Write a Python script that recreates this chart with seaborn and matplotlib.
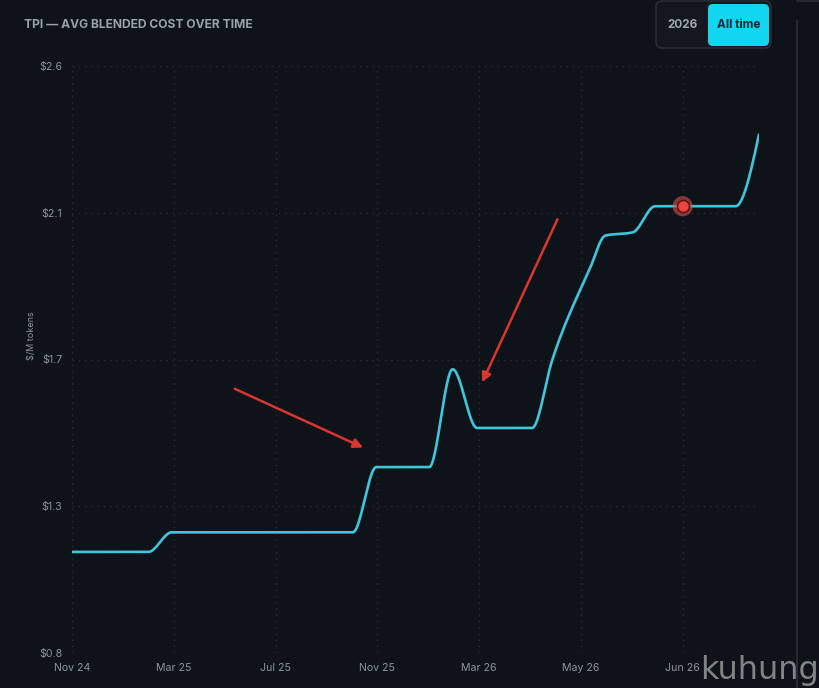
import numpy as np
import pandas as pd
import matplotlib
matplotlib.use("Agg")
import matplotlib.pyplot as plt
import seaborn as sns
from matplotlib.patches import FancyBboxPatch
from matplotlib.transforms import IdentityTransform
from matplotlib.lines import Line2D

# ---------------- data ----------------
x_pos = [0.0, 0.75, 0.98, 2.76, 2.99, 3.51, 3.74, 3.98, 4.52, 4.72, 5.09, 5.24, 5.51, 5.73, 6.52, 6.75]
cost = [1.11, 1.11, 1.17, 1.17, 1.37, 1.37, 1.67, 1.49, 1.49, 1.70, 1.98, 2.08, 2.09, 2.17, 2.17, 2.39]
tick_pos = [0, 1, 2, 3, 4, 5, 6]
tick_labels = ["Nov 24", "Mar 25", "Jul 25", "Nov 25", "Mar 26", "May 26", "Jun 26"]
y_ticks = [0.8, 1.25, 1.7, 2.15, 2.6]
y_tick_labels = ["$0.8", "$1.3", "$1.7", "$2.1", "$2.6"]
hover_x = [6.0]
hover_y = [2.17]
arrow_starts = [(1.60, 1.61), (4.77, 2.13)]
arrow_ends = [(2.86, 1.43), (4.03, 1.63)]


def monotone_curve(x, y, n=60):
    """Monotone cubic (d3 curveMonotoneX style) rendering of the series."""
    x = np.asarray(x, float)
    y = np.asarray(y, float)
    h = np.diff(x)
    s = np.diff(y) / h
    m = np.zeros_like(y)
    for i in range(1, len(y) - 1):
        p = (s[i - 1] * h[i] + s[i] * h[i - 1]) / (h[i - 1] + h[i])
        m[i] = (np.sign(s[i - 1]) + np.sign(s[i])) * min(abs(s[i - 1]), abs(s[i]), 0.5 * abs(p))
    m[0] = (3 * s[0] - m[1]) / 2
    m[-1] = (3 * s[-1] - m[-2]) / 2
    xs, ys = [], []
    for i in range(len(h)):
        t = np.linspace(0, 1, n, endpoint=(i == len(h) - 1))
        h00 = 2 * t**3 - 3 * t**2 + 1
        h10 = t**3 - 2 * t**2 + t
        h01 = -2 * t**3 + 3 * t**2
        h11 = t**3 - t**2
        xs.append(x[i] + t * h[i])
        ys.append(h00 * y[i] + h10 * h[i] * m[i] + h01 * y[i + 1] + h11 * h[i] * m[i + 1])
    return np.concatenate(xs), np.concatenate(ys)


# ---------------- style ----------------
BG = "#0e1219"
GRID = "#272d36"
TXT = "#8e959e"
LINE = "#3ec6dc"

sns.set_theme(style="dark")
plt.rcParams["font.family"] = ["Inter", "DejaVu Sans"]
plt.rcParams["axes.facecolor"] = BG
plt.rcParams["figure.facecolor"] = BG

W, H = 819, 688
fig = plt.figure(figsize=(W / 100, H / 100), dpi=100)
ax = fig.add_axes([72 / W, 35 / H, 687 / W, 587 / H])
ax.set_facecolor(BG)

cx, cy = monotone_curve(x_pos, cost)
df = pd.DataFrame({"x": cx, "y": cy})
sns.lineplot(data=df, x="x", y="y", ax=ax, color=LINE, lw=1.9, sort=False,
             estimator=None, solid_capstyle="round")

hv = pd.DataFrame({"x": hover_x, "y": hover_y})
sns.scatterplot(data=hv, x="x", y="y", ax=ax, s=210, color="#d65050", alpha=0.6,
                edgecolor="none", zorder=5)
sns.scatterplot(data=hv, x="x", y="y", ax=ax, s=75, color="#ea4340",
                edgecolor="#5a1212", linewidth=1.1, zorder=6)

for (sx, sy), (ex, ey) in zip(arrow_starts, arrow_ends):
    ax.annotate("", xy=(ex, ey), xytext=(sx, sy),
                arrowprops=dict(arrowstyle="-|>", color="#d9362f", lw=1.8,
                                mutation_scale=14, shrinkA=0, shrinkB=0))

ax.set_xlim(0, 6.75)
ax.set_ylim(0.8, 2.6)
ax.set_xticks(tick_pos)
ax.set_xticklabels(tick_labels)
ax.set_yticks(y_ticks)
ax.set_yticklabels(y_tick_labels)
ax.tick_params(axis="both", length=0, colors=TXT, labelsize=7.6)
ax.tick_params(axis="y", pad=7)
ax.tick_params(axis="x", pad=7)
ax.grid(True, color=GRID, linestyle=(0, (1, 3.5)), lw=1.0)
for sp in ax.spines.values():
    sp.set_visible(False)
ax.set_xlabel("")
ax.set_ylabel("$/M tokens", fontsize=6.5, color=TXT)
ax.yaxis.set_label_coords(-0.052, 0.54)

# ---------------- header ----------------
idt = IdentityTransform()
fig.text(24, H - 25, "TPI — AVG BLENDED COST OVER TIME", transform=idt,
         fontsize=8.7, fontweight="bold", color="#9ca2aa", va="center", ha="left")

grp = FancyBboxPatch((656, H - 48), 115, 47, boxstyle="round,pad=0,rounding_size=6",
                     transform=idt, facecolor="#13171e", edgecolor="#2b3038", lw=1.0)
fig.patches.append(grp)
btn = FancyBboxPatch((708, H - 46), 61, 42, boxstyle="round,pad=0,rounding_size=5",
                     transform=idt, facecolor="#12d5f0", edgecolor="none")
fig.patches.append(btn)
fig.text(682, H - 25, "2026", transform=idt, fontsize=8.5, fontweight="bold",
         color="#a0a6ad", ha="center", va="center")
fig.text(738.5, H - 25, "All time", transform=idt, fontsize=8.5, fontweight="bold",
         color="#0a2530", ha="center", va="center")

# right panel border
fig.lines.append(Line2D([797, 797], [0, H - 20], transform=idt, color="#2a2f37", lw=1.2))
fig.lines.append(Line2D([797, W], [H - 1, H - 1], transform=idt, color="#2a2f37", lw=1.2))

# watermark
fig.text(700, 9, "kuhung", transform=idt, fontsize=23, color="#909090", alpha=0.9,
         family="DejaVu Sans", ha="left", va="baseline")

fig.savefig("out.png", dpi=100, facecolor=BG)
